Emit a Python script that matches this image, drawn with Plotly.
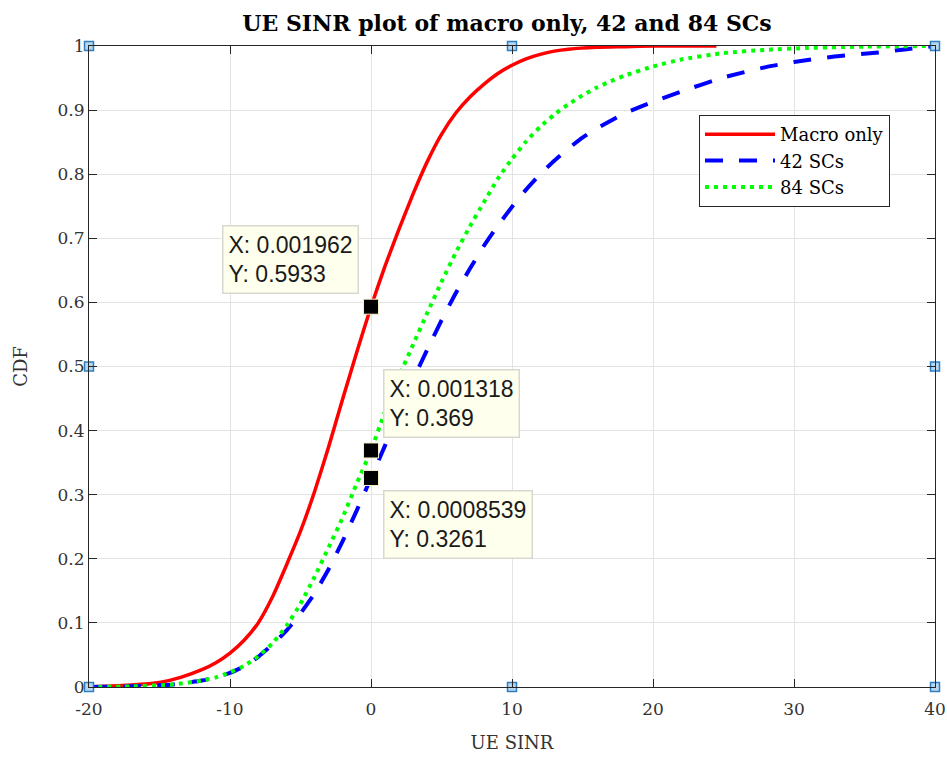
import plotly.graph_objects as go

# ---------------- data ----------------
macro_x = [-20, -17, -15, -13.5, -12, -11, -10, -9, -8, -7, -6, -5, -4, -3, -2, -1, 0,
           1, 2, 3, 4, 5, 6, 7, 8, 9, 10, 11, 12, 13, 14, 16, 18, 20, 24.5]
macro_y = [0.0, 0.003, 0.007, 0.015, 0.027, 0.038, 0.053, 0.073, 0.10, 0.14, 0.19, 0.243, 0.305,
           0.375, 0.45, 0.523, 0.5933, 0.657, 0.715, 0.77, 0.82, 0.862, 0.895, 0.92, 0.94, 0.957,
           0.970, 0.98, 0.987, 0.992, 0.995, 0.998, 0.999, 1.0, 1.0]

sc42_x = [-20, -17, -14, -12, -11, -10, -9, -8, -7, -6, -5, -4, -3, -2, -1, 0,
          1, 2, 3, 4, 5, 6, 7, 8, 9, 10, 11, 12, 13, 14, 15, 16, 18, 20, 22, 25, 28, 30, 33, 36, 38, 40]
sc42_y = [0.0, 0.001, 0.004, 0.01, 0.015, 0.022, 0.032, 0.047, 0.066, 0.088, 0.115, 0.146, 0.184,
          0.228, 0.276, 0.3261, 0.377, 0.43, 0.48, 0.527, 0.572, 0.614, 0.652, 0.688, 0.72, 0.749,
          0.776, 0.80, 0.821, 0.84, 0.857, 0.871, 0.895, 0.913, 0.929, 0.951, 0.967, 0.975, 0.984,
          0.990, 0.995, 1.0]

sc84_x = [-20, -17, -14, -12, -11, -10, -9, -8, -7, -6, -5, -4, -3, -2, -1, 0,
          1, 2, 3, 4, 5, 6, 7, 8, 9, 10, 11, 12, 13, 14, 15, 16, 17, 18, 20, 22, 25, 28, 31, 35, 40]
sc84_y = [0.0, 0.001, 0.004, 0.01, 0.015, 0.023, 0.033, 0.048, 0.068, 0.095, 0.13, 0.172, 0.218,
          0.265, 0.318, 0.369, 0.43, 0.485, 0.535, 0.584, 0.632, 0.677, 0.718, 0.756, 0.793, 0.824,
          0.851, 0.874, 0.893, 0.909, 0.923, 0.935, 0.945, 0.954, 0.968, 0.979, 0.989, 0.994, 0.997,
          0.999, 1.0]

tip_x = [0.001962, 0.001318, 0.0008539]
tip_y = [0.5933, 0.369, 0.3261]
tip_text = ["X: 0.001962<br>Y: 0.5933", "X: 0.001318<br>Y: 0.369", "X: 0.0008539<br>Y: 0.3261"]
# data-tip box anchor (top-left) in data units
tip_box_x = [-10.6, 0.83, 0.83]
tip_box_y = [0.721, 0.496, 0.307]

handle_x = [-20, -20, -20, 10, 40, 40, 40, 10]
handle_y = [0, 0.5, 1, 1, 1, 0.5, 0, 0]

x_ticks = [-20, -10, 0, 10, 20, 30, 40]
y_ticks = [0, 0.1, 0.2, 0.3, 0.4, 0.5, 0.6, 0.7, 0.8, 0.9, 1]
y_ticklabels = ["0", "0.1", "0.2", "0.3", "0.4", "0.5", "0.6", "0.7", "0.8", "0.9", "1"]

SERIF = "DejaVu Serif"

fig = go.Figure()
fig.add_trace(go.Scatter(x=macro_x, y=macro_y, mode="lines", name="Macro only",
                         line=dict(color="#ff0000", width=3.5, shape="spline", smoothing=0.5)))
fig.add_trace(go.Scatter(x=sc42_x, y=sc42_y, mode="lines", name="42 SCs",
                         line=dict(color="#0000ff", width=4, dash="18px,16px", shape="spline", smoothing=0.5)))
fig.add_trace(go.Scatter(x=sc84_x, y=sc84_y, mode="lines", name="84 SCs",
                         line=dict(color="#00ff00", width=4, dash="4px,5px", shape="spline", smoothing=0.5)))

# data tip markers
fig.add_trace(go.Scatter(x=tip_x, y=tip_y, mode="markers", showlegend=False,
                         marker=dict(symbol="square", size=15, color="black",
                                     line=dict(color="#f5f0c8", width=1)),
                         cliponaxis=False, hoverinfo="skip"))
# figure edit handles
fig.add_trace(go.Scatter(x=handle_x, y=handle_y, mode="markers", showlegend=False,
                         marker=dict(symbol="square", size=9, color="#b7d7f0",
                                     line=dict(color="#2f7fc0", width=1.5)),
                         cliponaxis=False, hoverinfo="skip"))

for tx, ty, tt in zip(tip_box_x, tip_box_y, tip_text):
    fig.add_annotation(x=tx, y=ty, xref="x", yref="y", text=tt, showarrow=False,
                       xanchor="left", yanchor="top", align="left",
                       font=dict(family="Liberation Sans", size=23, color="#1a1a1a"),
                       bgcolor="#ffffee", bordercolor="#d8d8d0", borderwidth=1.5, borderpad=5)

fig.update_layout(
    width=947, height=757,
    margin=dict(l=89, r=12, t=46, b=70, autoexpand=False),
    paper_bgcolor="white", plot_bgcolor="white",
    title=dict(text="<b>UE SINR plot of macro only, 42 and 84 SCs</b>",
               x=507 / 947, xanchor="center", y=1 - 23 / 757, yanchor="middle",
               font=dict(family=SERIF, size=22, color="black")),
    xaxis=dict(range=[-20, 40], tickvals=x_ticks, ticktext=[str(v) for v in x_ticks],
               showgrid=True, gridcolor="#e3e3e3", gridwidth=1, automargin=False,
               showline=True, linecolor="#262626", linewidth=1.2, mirror="ticks",
               ticks="inside", ticklen=8, tickcolor="#262626", zeroline=False,
               ticklabelstandoff=6,
               tickfont=dict(family=SERIF, size=17, color="#333333"),
               title=dict(text="UE SINR", font=dict(family=SERIF, size=18, color="#333333"), standoff=18)),
    yaxis=dict(range=[0, 1], tickvals=y_ticks, ticktext=y_ticklabels,
               showgrid=True, gridcolor="#e3e3e3", gridwidth=1, automargin=False,
               showline=True, linecolor="#262626", linewidth=1.2, mirror="ticks",
               ticks="inside", ticklen=8, tickcolor="#262626", zeroline=False,
               tickfont=dict(family=SERIF, size=17, color="#333333"),
               title=dict(text="CDF", font=dict(family=SERIF, size=18, color="#333333"), standoff=25)),
    legend=dict(x=(699 - 89) / 846, y=(687 - 115) / 641, xanchor="left", yanchor="top",
                bgcolor="white", bordercolor="#262626", borderwidth=1,
                font=dict(family=SERIF, size=18, color="black"),
                itemwidth=70, tracegroupgap=0),
    showlegend=True,
)

fig.write_html("out.html")
